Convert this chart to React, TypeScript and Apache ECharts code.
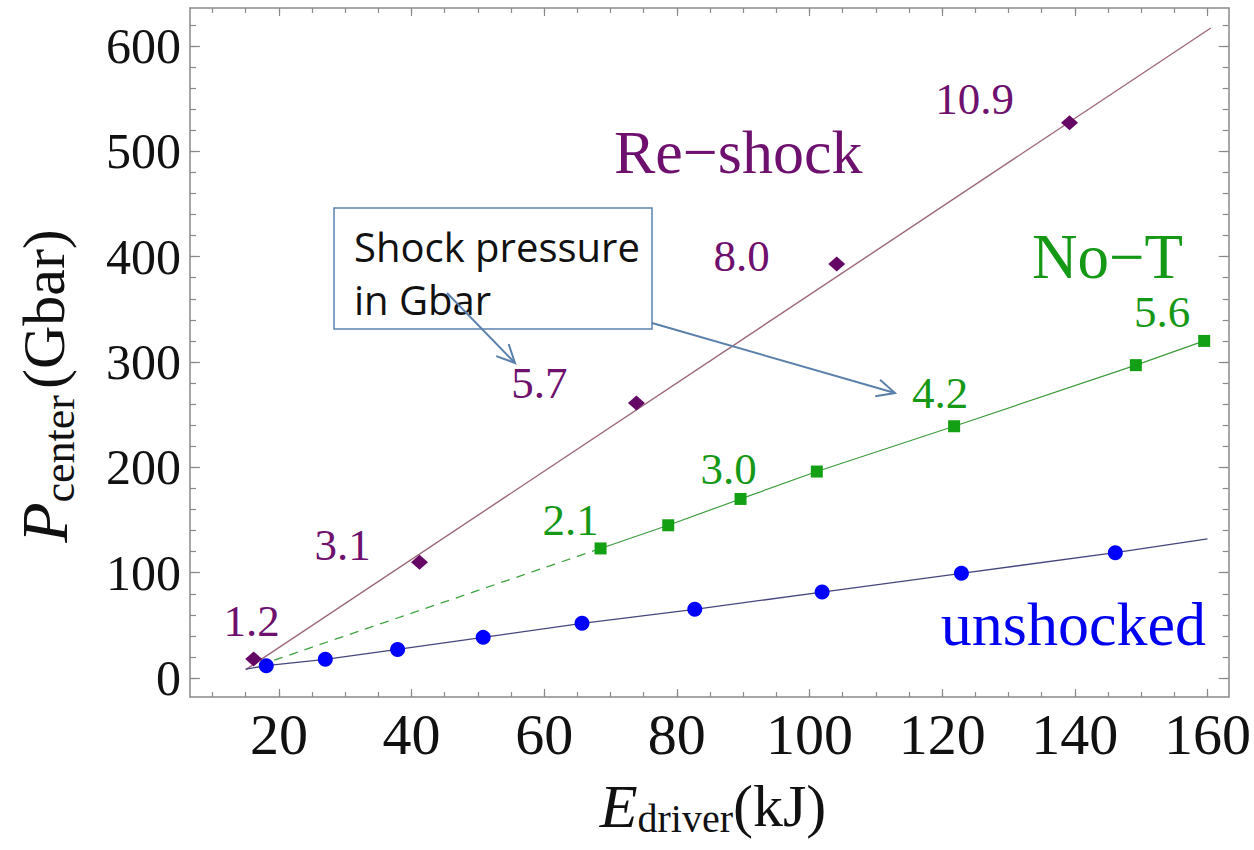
import React, { useEffect, useRef } from "react";
import * as echarts from "echarts";

// ---- tick values ----
const xMajorTicks = [20, 40, 60, 80, 100, 120, 140, 160];
const xMinorTicks = [10, 15, 20, 25, 30, 35, 40, 45, 50, 55, 60, 65, 70, 75, 80, 85, 90, 95, 100, 105, 110, 115, 120, 125, 130, 135, 140, 145, 150, 155, 160];
const yMajorTicks = [0, 100, 200, 300, 400, 500, 600];
const yMinorTicks = [0, 20, 40, 60, 80, 100, 120, 140, 160, 180, 200, 220, 240, 260, 280, 300, 320, 340, 360, 380, 400, 420, 440, 460, 480, 500, 520, 540, 560, 580, 600, 620];

// ---- Re-shock ----
const reshockE = [16.2, 41.2, 73.9, 104.1, 139.2];
const reshockP = [18, 110, 261, 393, 527];
const reshockLabels = ["1.2", "3.1", "5.7", "8.0", "10.9"];
const reshockFitE = [15, 160.5];
const reshockFitP = [8, 617];

// ---- No-T ----
const noTE = [68.5, 78.7, 89.6, 101.1, 121.8, 149.2, 159.5];
const noTP = [123, 145, 170, 196, 239, 297, 320];
const noTLabels = ["2.1", "", "3.0", "", "4.2", "", "5.6"];
const noTDashE = [17, 68.5];
const noTDashP = [12, 123];

// ---- unshocked ----
const unshockedE = [18.1, 27.0, 37.9, 50.8, 65.7, 82.7, 101.9, 122.9, 146.1];
const unshockedP = [11.7, 17.8, 27.2, 38.6, 51.9, 65.2, 81.6, 99.4, 119];
const unshockedEndsE = [15, 160];
const unshockedEndsP = [8.5, 132];

// label offsets (layout, px)
const reshockLabelOffsets = [[-2, -38], [-77, -17], [-97, -20], [-95, -8], [-95, -24]];
const noTLabelOffsets = [[-30, -28], [0, 0], [-12, -30], [0, 0], [-14, -33], [0, 0], [-42, -29]];

const SERIF = "Liberation Serif, Times New Roman, serif";
const FRAME = "#8a8a8a";
const PURPLE = "#6e106e";
const GREEN = "#159815";
const BLUE = "#0000f0";

function arrow(x1: number, y1: number, x2: number, y2: number, color: string) {
  const ang = Math.atan2(y2 - y1, x2 - x1);
  const L = 20;
  const a = Math.PI / 7;
  const p1 = [x2 - L * Math.cos(ang - a), y2 - L * Math.sin(ang - a)];
  const p2 = [x2 - L * Math.cos(ang + a), y2 - L * Math.sin(ang + a)];
  return [
    { type: "line", z: 100, shape: { x1, y1, x2, y2 }, style: { stroke: color, lineWidth: 2 } },
    { type: "polyline", z: 100, shape: { points: [p1, [x2, y2], p2] }, style: { stroke: color, lineWidth: 2, fill: null } },
  ];
}

export default function App() {
  const ref = useRef<HTMLDivElement>(null);
  useEffect(() => {
    if (!ref.current) return;
    const chart = echarts.init(ref.current, null, { renderer: "svg" });
    const xMin = 6.6, xMax = 163.2, yMin = -18, yMax = 636;
    const tickLine = { color: FRAME, width: 1.2 };
    const baseX = (position: string, ticks: number[], len: number, labels: boolean, line: boolean) => ({
      type: "value", gridIndex: 0, position, min: xMin, max: xMax,
      axisLine: { show: line, onZero: false, lineStyle: { color: FRAME, width: 1.5 } },
      axisTick: { show: true, inside: true, length: len, customValues: ticks, lineStyle: tickLine },
      axisLabel: labels
        ? { show: true, customValues: xMajorTicks, fontSize: 58, fontFamily: SERIF, color: "#111", margin: 8 }
        : { show: false },
      splitLine: { show: false },
    });
    const baseY = (position: string, ticks: number[], len: number, labels: boolean, line: boolean) => ({
      type: "value", gridIndex: 0, position, min: yMin, max: yMax,
      axisLine: { show: line, onZero: false, lineStyle: { color: FRAME, width: 1.5 } },
      axisTick: { show: true, inside: true, length: len, customValues: ticks, lineStyle: tickLine },
      axisLabel: labels
        ? { show: true, customValues: yMajorTicks, fontSize: 50, fontFamily: SERIF, color: "#111", margin: 9 }
        : { show: false },
      splitLine: { show: false },
    });

    const option: any = {
      animation: false,
      backgroundColor: "#ffffff",
      grid: { left: 190, right: 22, top: 8, bottom: 153, containLabel: false },
      xAxis: [
        baseX("bottom", xMajorTicks, 8, true, true),
        baseX("bottom", xMinorTicks, 5, false, false),
        baseX("top", xMajorTicks, 8, false, true),
        baseX("top", xMinorTicks, 5, false, false),
      ],
      yAxis: [
        baseY("left", yMajorTicks, 10, true, true),
        baseY("left", yMinorTicks, 6, false, false),
        baseY("right", yMajorTicks, 10, false, true),
        baseY("right", yMinorTicks, 6, false, false),
      ],
      series: [
        {
          name: "Re-shock fit", type: "line", xAxisIndex: 0, yAxisIndex: 0, symbol: "none", z: 2,
          data: reshockFitE.map((e, i) => [e, reshockFitP[i]]),
          lineStyle: { color: "#9c6878", width: 1.4 },
        },
        {
          name: "No-T extrapolation", type: "line", xAxisIndex: 0, yAxisIndex: 0, symbol: "none", z: 2,
          data: noTDashE.map((e, i) => [e, noTDashP[i]]),
          lineStyle: { color: "#3fa33f", width: 1.3, type: [9, 7] },
        },
        {
          name: "unshocked line", type: "line", xAxisIndex: 0, yAxisIndex: 0, symbol: "none", z: 2,
          data: [
            [unshockedEndsE[0], unshockedEndsP[0]],
            ...unshockedE.map((e, i) => [e, unshockedP[i]]),
            [unshockedEndsE[1], unshockedEndsP[1]],
          ],
          lineStyle: { color: "#46467e", width: 1.3 },
        },
        {
          name: "No-T", type: "line", xAxisIndex: 0, yAxisIndex: 0, z: 3,
          symbol: "rect", symbolSize: 12, showAllSymbol: true,
          itemStyle: { color: "#14a014", opacity: 1 },
          lineStyle: { color: "#3b9b3b", width: 1.2 },
          data: noTE.map((e, i) => ({
            value: [e, noTP[i]],
            label: {
              show: noTLabels[i] !== "", formatter: noTLabels[i] || " ", position: "inside",
              offset: noTLabelOffsets[i], color: GREEN, fontSize: 45, fontFamily: SERIF, opacity: 1,
            },
          })),
        },
        {
          name: "unshocked", type: "scatter", xAxisIndex: 0, yAxisIndex: 0, z: 4,
          symbol: "circle", symbolSize: 15,
          itemStyle: { color: "#0000ff", opacity: 1 },
          data: unshockedE.map((e, i) => [e, unshockedP[i]]),
        },
        {
          name: "Re-shock", type: "scatter", xAxisIndex: 0, yAxisIndex: 0, z: 4,
          symbol: "diamond", symbolSize: [17, 15],
          itemStyle: { color: "#650865", opacity: 1 },
          data: reshockE.map((e, i) => ({
            value: [e, reshockP[i]],
            label: {
              show: true, formatter: reshockLabels[i], position: "inside",
              offset: reshockLabelOffsets[i], color: PURPLE, fontSize: 45, fontFamily: SERIF, opacity: 1,
            },
          })),
        },
      ],
      graphic: [
        { type: "text", x: 614, y: 152, z: 50, style: { text: "Re\u2212shock", fill: PURPLE, fontSize: 62, fontFamily: SERIF, align: "left", verticalAlign: "middle" } },
        { type: "text", x: 1032, y: 257, z: 50, style: { text: "No\u2212T", fill: GREEN, fontSize: 63, fontFamily: SERIF, align: "left", verticalAlign: "middle" } },
        { type: "text", x: 1206, y: 624, z: 50, style: { text: "unshocked", fill: BLUE, fontSize: 62, fontFamily: SERIF, align: "right", verticalAlign: "middle" } },
        // annotation box
        { type: "rect", z: 90, shape: { x: 334, y: 208, width: 318, height: 121 }, style: { fill: "#ffffff", stroke: "#5b82b0", lineWidth: 1.5 } },
        { type: "text", z: 95, x: 354, y: 246, style: { text: "Shock pressure", fill: "#111", fontSize: 40, fontFamily: "Open Sans, Lato, sans-serif", align: "left", verticalAlign: "middle" } },
        { type: "text", z: 95, x: 354, y: 299, style: { text: "in Gbar", fill: "#111", fontSize: 40, fontFamily: "Open Sans, Lato, sans-serif", align: "left", verticalAlign: "middle" } },
        ...arrow(447, 293, 515, 363, "#5a80ac"),
        ...arrow(652, 323, 895, 393, "#5a80ac"),
        // axis titles
        {
          type: "text", x: 713, y: 806, z: 50,
          style: {
            text: "{e|E}{s|driver}{n|(kJ)}", align: "center", verticalAlign: "middle", fill: "#111",
            rich: {
              e: { fontFamily: SERIF, fontStyle: "italic", fontSize: 62, fill: "#111" },
              s: { fontFamily: SERIF, fontSize: 40, padding: [24, 0, 0, 0], fill: "#111" },
              n: { fontFamily: SERIF, fontSize: 60, fill: "#111" },
            },
          },
        },
        {
          type: "text", x: 44, y: 386, z: 50, rotation: Math.PI / 2,
          style: {
            text: "{e|P}{s|center}{n|(Gbar)}", align: "center", verticalAlign: "middle", fill: "#111",
            rich: {
              e: { fontFamily: SERIF, fontStyle: "italic", fontSize: 66, fill: "#111" },
              s: { fontFamily: SERIF, fontSize: 44, padding: [30, 6, 0, 0], fill: "#111" },
              n: { fontFamily: SERIF, fontSize: 60, fill: "#111" },
            },
          },
        },
      ],
    };
    chart.setOption(option);
    return () => chart.dispose();
  }, []);
  return <div ref={ref} style={{ position: "fixed", left: 0, top: 0, width: 1254, height: 850, background: "#fff" }} />;
}
